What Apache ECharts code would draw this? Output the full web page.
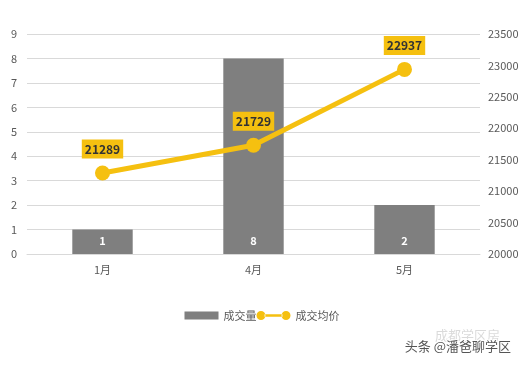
<!DOCTYPE html>
<html><head><meta charset="utf-8">
<script src="https://cdn.jsdelivr.net/npm/echarts@6/dist/echarts.min.js"></script>
<style>html,body{margin:0;padding:0;background:#fff}#c{width:524px;height:366px}</style>
</head><body><div id="c"></div>
<script>
const categories = ['1月', '4月', '5月'];
const volume = [1, 8, 2];
const avgPrice = [21289, 21729, 22937];
const leftTicks = [0, 9, 1];
const rightTicks = [20000, 23500, 500];

const chart = echarts.init(document.getElementById('c'));
const font = '"Noto Sans CJK SC", "Noto Sans", sans-serif';
const lineIcon = 'path://M0,5a5,5 0 1,0 10,0a5,5 0 1,0 -10,0ZM28,5a5,5 0 1,0 10,0a5,5 0 1,0 -10,0ZM9,3.5H29V6.5H9Z';
chart.setOption({
  animation: false,
  textStyle: { fontFamily: font },
  grid: { left: 27, right: 44, top: 34, bottom: 112 },
  legend: {
    bottom: 40, left: 'center', itemGap: 0, itemWidth: 34, itemHeight: 10,
    textStyle: { color: '#595959', fontSize: 11, fontFamily: font },
    data: [
      { name: '成交量', icon: 'path://M0,2H25V8H0Z', itemStyle: { color: '#7f7f7f' } },
      { name: '成交均价', icon: lineIcon, itemStyle: { color: '#f5c010' } }
    ]
  },
  xAxis: {
    type: 'category', data: categories,
    axisLine: { lineStyle: { color: '#d9d9d9' } },
    axisTick: { show: false },
    axisLabel: { color: '#595959', fontSize: 11, margin: 10 }
  },
  yAxis: [
    {
      type: 'value', min: leftTicks[0], max: leftTicks[1], interval: leftTicks[2],
      axisLine: { show: false }, axisTick: { show: false },
      splitLine: { lineStyle: { color: '#d9d9d9' } },
      axisLabel: { color: '#595959', fontSize: 11, margin: 10 }
    },
    {
      type: 'value', min: rightTicks[0], max: rightTicks[1], interval: rightTicks[2],
      axisLine: { show: false }, axisTick: { show: false },
      splitLine: { show: false },
      axisLabel: { color: '#595959', fontSize: 11, margin: 8, formatter: v => String(v) }
    }
  ],
  series: [
    {
      name: '成交量', type: 'bar', data: volume, barWidth: '40%',
      itemStyle: { color: '#7f7f7f' },
      label: { show: true, position: 'insideBottom', distance: 8, color: '#fff', fontWeight: 'bold', fontSize: 11 }
    },
    {
      name: '成交均价', type: 'line', yAxisIndex: 1, data: avgPrice,
      symbol: 'circle', symbolSize: 15,
      lineStyle: { color: '#f5c010', width: 5 },
      itemStyle: { color: '#f5c010' },
      label: {
        show: true, position: 'top', distance: 7,
        backgroundColor: '#f5c010', color: '#333', fontSize: 12, fontWeight: 'bold',
        padding: [4, 3, 3, 3]
      }
    }
  ],
  graphic: [
    { type: 'text', right: 24, bottom: 24, style: { text: '成都学区房', fill: 'rgba(150,150,150,0.35)', font: '13px ' + font } },
    { type: 'text', right: 12, bottom: 12, style: { text: '头条 @潘爸聊学区', fill: '#555', stroke: '#fff', lineWidth: 2, font: '13px ' + font } }
  ]
});
</script></body></html>
